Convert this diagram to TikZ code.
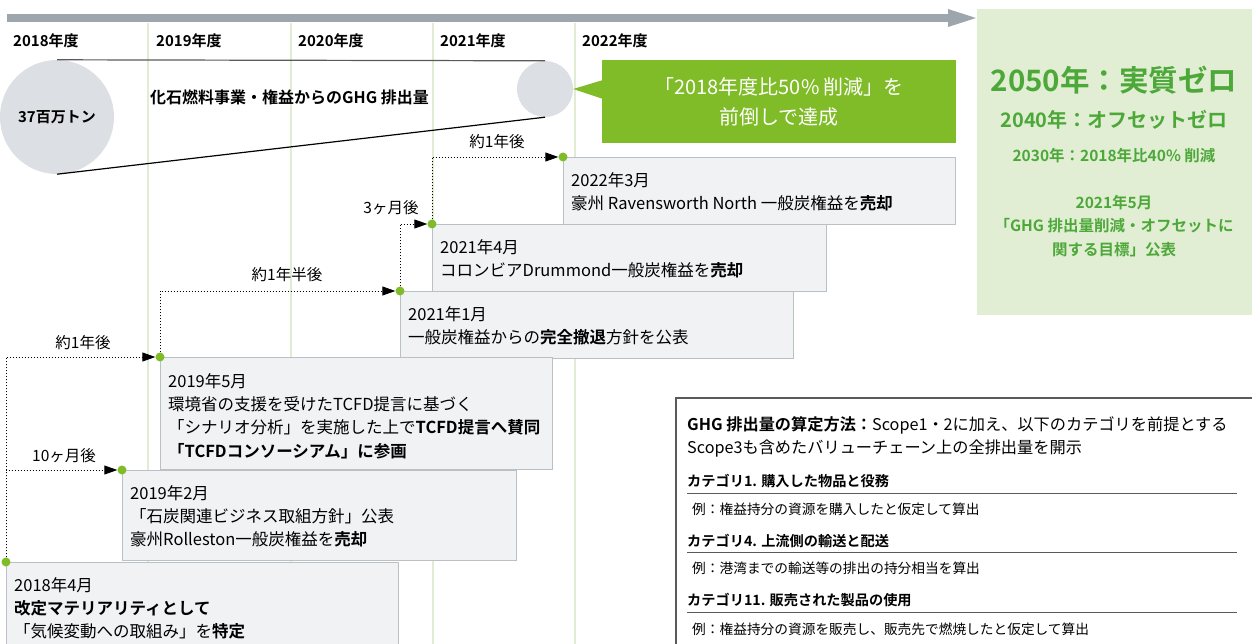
\documentclass[tikz,border=0pt]{standalone}
\usepackage{fontspec}
\setmainfont{Noto Sans CJK JP}[BoldFont={Noto Sans CJK JP Bold}]
\usetikzlibrary{arrows.meta}
\definecolor{bargray}{HTML}{9DA6AC}
\definecolor{vline}{HTML}{E2ECD4}
\definecolor{circgray}{HTML}{DCDFE3}
\definecolor{lime}{HTML}{80BC28}
\definecolor{paleg}{HTML}{E2EED3}
\definecolor{txtg}{HTML}{4DA83A}
\definecolor{boxfill}{HTML}{F0F2F4}
\definecolor{boxline}{HTML}{B9C0C6}
\definecolor{frame}{HTML}{5A5A5A}
\newcommand{\fs}[2]{\fontsize{#1}{#2}\selectfont}
\tikzset{
  yearlbl/.style={anchor=west, inner sep=0, font=\fs{15}{17}\bfseries},
  evbox/.style={draw=boxline, fill=boxfill, line width=1, anchor=north west, inner sep=0},
  evtext/.style={anchor=north west, inner sep=0, align=left, font=\fs{16.5}{23.4}},
  dot/.style={circle, fill=lime, minimum size=9, inner sep=0},
  conn/.style={dash pattern=on 1pt off 2pt, line width=0.9, -{Triangle[length=13,width=9]}},
  gaplbl/.style={inner sep=0, font=\fs{15.5}{17}},
  gtext/.style={text=txtg, inner sep=0, align=center, font=\bfseries},
  cattitle/.style={anchor=west, inner sep=0, font=\fs{14.2}{17}\bfseries},
  catex/.style={anchor=west, inner sep=0, font=\fs{13.7}{17}},
}
\begin{document}
\begin{tikzpicture}[x=1pt,y=-1pt]
\useasboundingbox (0,0) rectangle (1252,644);
\clip (0,0) rectangle (1252,644);
% timeline bar
\fill[bargray] (7,14) rectangle (950,22);
\fill[bargray] (948,9) -- (976,18) -- (948,27) -- cycle;
% year grid lines
\foreach \x in {148,291,433,575} \draw[vline, line width=2] (\x,23) -- (\x,644);
\node[yearlbl] (y18) at (13,41) {2018年度};
\node[yearlbl] (y19) at (156,41) {2019年度};
\node[yearlbl] (y20) at (298,41) {2020年度};
\node[yearlbl] (y21) at (440,41) {2021年度};
\node[yearlbl] (y22) at (582,41) {2022年度};
% emissions
\node[circle, fill=circgray, minimum size=114, inner sep=0] (big) at (57,117) {};
\node[circle, fill=circgray, minimum size=56, inner sep=0] (small) at (545,89) {};
\draw[color=frame, line width=1.2] (big.north) -- (small.north);
\draw[line width=1.2] (big.south) -- (small.south);
\node[inner sep=0, font=\fs{15}{17}\bfseries] (bigt) at (57,117) {37百万トン};
\node[anchor=west, inner sep=0, font=\fs{16}{17}\bfseries] (ghg) at (150,97) {化石燃料事業・権益からのGHG 排出量};
% callout
\node[fill=lime, minimum width=354, minimum height=83, anchor=north west, inner sep=0,
      text=white, align=center, font=\fs{20}{30}] (goal) at (602,60)
  {「2018年度比50\% 削減」を\\前倒しで達成};
\fill[lime] (603,80) -- (small.east) -- (603,99) -- cycle;
% right target box
\node[fill=paleg, minimum width=276, minimum height=306, anchor=north west, inner sep=0] (target) at (977,9) {};
\node[gtext, font=\fs{29.5}{30}\bfseries] (t2050) at (1114,80) {2050年：実質ゼロ};
\node[gtext, font=\fs{20}{24}\bfseries] (t2040) at (1114,120) {2040年：オフセットゼロ};
\node[gtext, font=\fs{15.5}{17}\bfseries] (t2030) at (1114,156) {2030年：2018年比40\% 削減};
\node[gtext, font=\fs{15.5}{23.5}\bfseries] (t2021) at (1114,226) {2021年5月\\「GHG 排出量削減・オフセットに\\関する目標」公表};
% event boxes
\node[evbox, minimum width=392, minimum height=67] (b2203) at (563,157) {};
\node[evbox, minimum width=394, minimum height=67] (b2104) at (432,224) {};
\node[evbox, minimum width=393, minimum height=67] (b2101) at (400,291) {};
\node[evbox, minimum width=392, minimum height=112] (b1905) at (160,357) {};
\node[evbox, minimum width=394, minimum height=90] (b1902) at (122,470) {};
\node[evbox, minimum width=392, minimum height=100] (b1804) at (6,562) {};
\node[evtext] (e2203) at (571,172) {2022年3月\\豪州 Ravensworth North 一般炭権益を\textbf{売却}};
\node[evtext] (e2104) at (440,239) {2021年4月\\コロンビアDrummond一般炭権益を\textbf{売却}};
\node[evtext] (e2101) at (408,306) {2021年1月\\一般炭権益からの\textbf{完全撤退}方針を公表};
\node[evtext] (e1905) at (168,373) {2019年5月\\環境省の支援を受けたTCFD提言に基づく\\「シナリオ分析」を実施した上で\textbf{TCFD提言へ賛同}\\\textbf{「TCFDコンソーシアム」に参画}};
\node[evtext] (e1902) at (130,485) {2019年2月\\「石炭関連ビジネス取組方針」公表\\豪州Rolleston一般炭権益を\textbf{売却}};
\node[evtext] (e1804) at (14,577) {2018年4月\\\textbf{改定マテリアリティとして}\\「気候変動への取組み」を\textbf{特定}};
% dots
\node[dot] (p2203) at (b2203.north west) {};
\node[dot] (p2104) at (b2104.north west) {};
\node[dot] (p2101) at (b2101.north west) {};
\node[dot] (p1905) at (b1905.north west) {};
\node[dot] (p1902) at (b1902.north west) {};
\node[dot] (p1804) at (b1804.north west) {};
% connectors
\draw[conn] (p1804) |- (p1902);
\draw[conn] (p1804) |- (p1905);
\draw[conn] (p1905) |- (p2101);
\draw[conn] (p2101) |- (p2104);
\draw[conn] (p2104) |- (p2203);
\node[gaplbl] (g1) at (64,456) {10ヶ月後};
\node[gaplbl] (g2) at (83,343) {約1年後};
\node[gaplbl] (g3) at (287,275) {約1年半後};
\node[gaplbl] (g4) at (391,208) {3ヶ月後};
\node[gaplbl] (g5) at (497,142) {約1年後};
% method box
\draw[frame, line width=1.2] (676,644) -- (676,398) -- (1253,398);
\node[anchor=west, inner sep=0, font=\fs{16.2}{17}] (m1) at (687,425) {\textbf{GHG 排出量の算定方法：}Scope1・2に加え、以下のカテゴリを前提とする};
\node[anchor=west, inner sep=0, font=\fs{16.2}{17}] (m2) at (687,449) {Scope3も含めたバリューチェーン上の全排出量を開示};
\node[cattitle] (c1) at (687,481) {カテゴリ1. 購入した物品と役務};
\draw[frame, line width=1] (687,493) -- (1237,493);
\node[catex] (x1) at (692,509) {例：権益持分の資源を購入したと仮定して算出};
\node[cattitle] (c4) at (687,541) {カテゴリ4. 上流側の輸送と配送};
\draw[frame, line width=1] (687,552) -- (1237,552);
\node[catex] (x4) at (692,568) {例：港湾までの輸送等の排出の持分相当を算出};
\node[cattitle] (c11) at (687,600) {カテゴリ11. 販売された製品の使用};
\draw[frame, line width=1] (687,612) -- (1237,612);
\node[catex] (x11) at (692,629) {例：権益持分の資源を販売し、販売先で燃焼したと仮定して算出};
\end{tikzpicture}
\end{document}
